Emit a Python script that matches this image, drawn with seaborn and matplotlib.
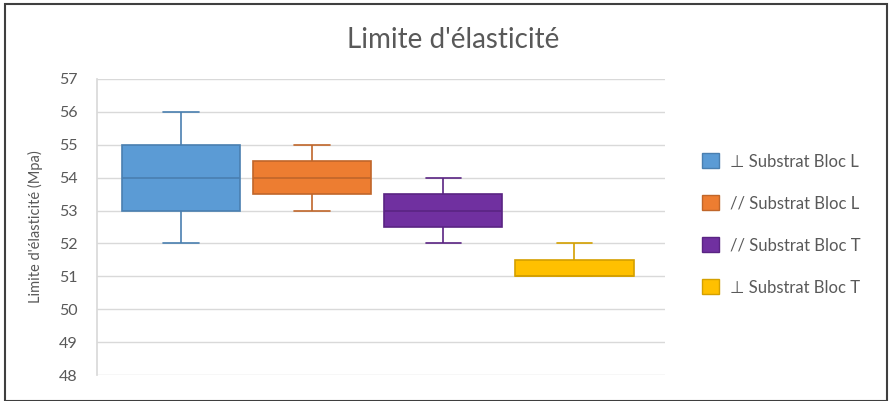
import matplotlib
matplotlib.use("Agg")
import matplotlib.pyplot as plt
from matplotlib.patches import Patch, Rectangle
import seaborn as sns
import pandas as pd

# ---- data ----
categories = ["⊥ Substrat Bloc L", "// Substrat Bloc L", "// Substrat Bloc T", "⊥ Substrat Bloc T"]
values_perp_L = [52, 53, 54, 55, 56]
values_par_L = [53, 53.5, 54, 54.5, 55]
values_par_T = [52, 52.5, 53, 53.5, 54]
values_perp_T = [51, 51, 51, 51.5, 52]
y_ticks = [48, 49, 50, 51, 52, 53, 54, 55, 56, 57]
title = "Limite d'élasticité"
y_label = "Limite d'élasticité (Mpa)"

fills = ["#5B9BD5", "#ED7D31", "#7030A0", "#FFC000"]
edges = ["#4A7FB0", "#C0662A", "#5A2483", "#D4A000"]

series = [values_perp_L, values_par_L, values_par_T, values_perp_T]
rows = []
for cat, vals in zip(categories, series):
    for v in vals:
        rows.append({"serie": cat, "valeur": v})
df = pd.DataFrame(rows)

sns.set_theme(style="white")
plt.rcParams["font.family"] = ["Lato", "DejaVu Sans"]

fig = plt.figure(figsize=(8.92, 4.01), dpi=100)
ax = fig.add_axes([0.1087, 0.0648, 0.7455 - 0.1087, 0.803 - 0.0648])

for cat, fc, ec in zip(categories, fills, edges):
    sub = df[df["serie"] == cat]
    sns.boxplot(data=sub, x="serie", y="valeur", order=categories, color=fc,
                linecolor=ec, saturation=1, width=0.9, linewidth=1.2,
                whis=1.5, showfliers=False, ax=ax, capwidths=0.27)

ax.set_xlim(-0.64, 3.69)
ax.set_ylim(48, 57)
ax.set_yticks(y_ticks)
ax.set_yticklabels([str(t) for t in y_ticks], color="#595959", fontsize=11.5)
ax.set_xticks([])
ax.set_xlabel("")
ax.set_ylabel(y_label, color="#595959", fontsize=10.5, labelpad=11)
ax.yaxis.grid(True, color="#D9D9D9", linewidth=1)
ax.set_axisbelow(True)
for s in ["top", "right", "bottom"]:
    ax.spines[s].set_visible(False)
ax.spines["left"].set_color("#D9D9D9")
ax.tick_params(axis="y", length=0, pad=14)

fig.text(0.508, 0.9, title, ha="center", va="center", fontsize=20, color="#595959")

handles = [Patch(facecolor=fc, edgecolor=ec, linewidth=1) for fc, ec in zip(fills, edges)]
fig.legend(handles, categories, loc="center left", bbox_to_anchor=(0.77, 0.44),
           frameon=False, fontsize=12, labelcolor="#595959", labelspacing=1.55,
           handlelength=1.0, handleheight=1.0, handletextpad=0.7)

fig.patches.append(Rectangle((5 / 892, 0.0), (887 - 5) / 892, (401 - 4) / 401,
                             transform=fig.transFigure, fill=False,
                             edgecolor="#3F3F3F", linewidth=1.5))

fig.savefig("out.png", dpi=100, facecolor="white")
